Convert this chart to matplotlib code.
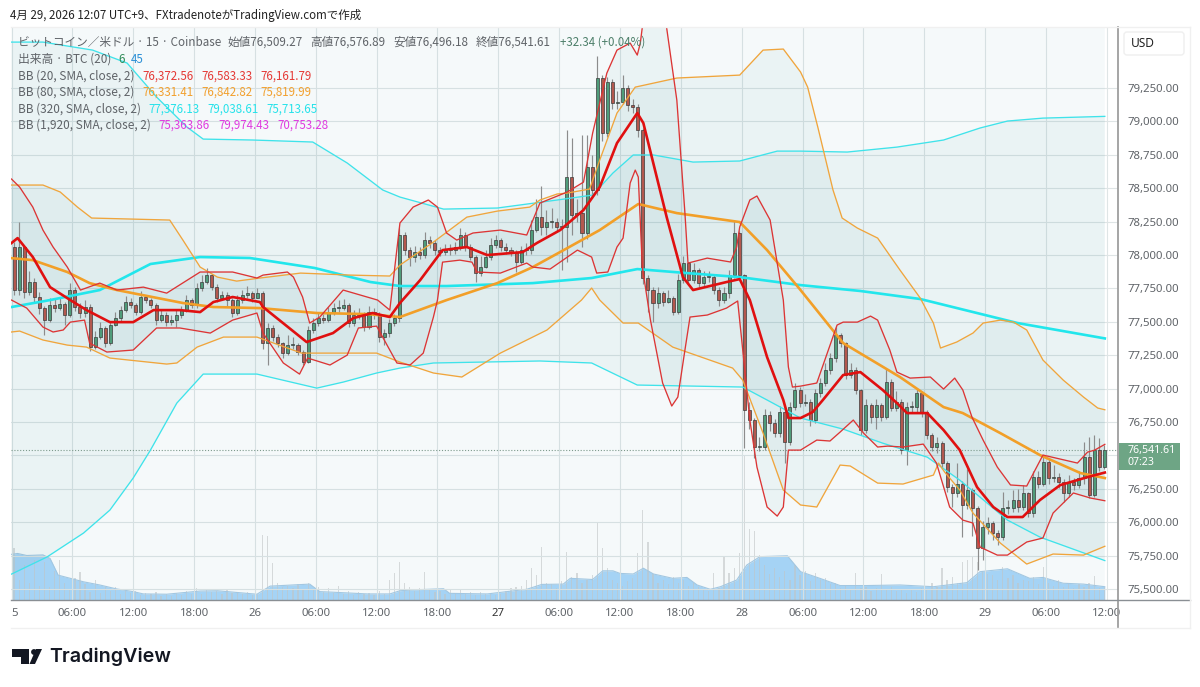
import numpy as np
import matplotlib
matplotlib.use("Agg")
import matplotlib.pyplot as plt
from matplotlib.patches import Polygon, Circle, Rectangle, FancyBboxPatch

plt.rcParams['font.family'] = ['Noto Sans CJK JP', 'DejaVu Sans']

# hours since Apr 25 00:00, prices in USD
first_open = 78062
closes = [
    77738, 78062, 77725, 77800, 77688, 77600, 77513, 77626, 77600, 77633, 77551, 77738, 77613, 77563, 77613, 77314,
    77389, 77451, 77339, 77476, 77526, 77588, 77651, 77626, 77576, 77688, 77663, 77626, 77513, 77551, 77501, 77513,
    77551, 77588, 77663, 77626, 77750, 77800, 77850, 77763, 77676, 77700, 77663, 77563, 77663, 77700, 77713, 77676,
    77713, 77339, 77451, 77389, 77339, 77264, 77326, 77326, 77276, 77201, 77438, 77488, 77526, 77513, 77563, 77600,
    77600, 77626, 77488, 77551, 77551, 77463, 77576, 77551, 77389, 77414, 77488, 77526, 78150, 78038, 77988, 78025,
    78000, 78113, 78088, 78038, 78025, 78038, 78038, 78063, 78150, 78063, 77988, 77863, 77913, 77988, 78075, 78113,
    78063, 78038, 78025, 77950, 78038, 78038, 78188, 78287, 78213, 78250, 78250, 78213, 78213, 78587, 78300, 78312,
    78163, 78662, 78487, 79323, 78911, 79298, 79136, 79148, 79248, 79123, 79111, 78936, 77826, 77738, 77639, 77713,
    77651, 77676, 77576, 77813, 77938, 77813, 77888, 77788, 77838, 77838, 77738, 77664, 77713, 77851, 78162, 77850,
    76840, 76765, 76565, 76565, 76802, 76740, 76665, 76827, 76603, 76865, 76990, 76890, 76902, 76765, 76965, 77039,
    77139, 77226, 77401, 77339, 77102, 77139, 76990, 76690, 76877, 76790, 76877, 76790, 77052, 76852, 76902, 76540,
    76864, 76864, 76964, 76827, 76652, 76565, 76590, 76440, 76266, 76216, 76290, 76128, 76241, 76103, 75804, 75966,
    75991, 75916, 75891, 76103, 76103, 76166, 76116, 76216, 76066, 76340, 76290, 76453, 76328, 76340, 76303, 76216,
    76303, 76278, 76328, 76490, 76203, 76540, 76415, 76540,
]
highs = [
    78100, 78250, 78062, 77880, 77830, 77720, 77620, 77680, 77680, 77680, 77650, 77790, 77760, 77640, 77660, 77630,
    77430, 77500, 77470, 77510, 77570, 77620, 77690, 77680, 77640, 77730, 77700, 77680, 77640, 77590, 77570, 77550,
    77590, 77620, 77700, 77680, 77790, 77850, 77900, 77860, 77780, 77730, 77720, 77680, 77700, 77740, 77770, 77730,
    77750, 77730, 77490, 77480, 77410, 77350, 77400, 77390, 77340, 77290, 77470, 77530, 77570, 77560, 77610, 77640,
    77660, 77670, 77640, 77590, 77600, 77570, 77620, 77600, 77570, 77450, 77520, 77560, 78200, 78170, 78060, 78070,
    78060, 78170, 78140, 78110, 78060, 78080, 78080, 78100, 78200, 78170, 78080, 78000, 77990, 78040, 78130, 78150,
    78130, 78090, 78060, 78040, 78070, 78090, 78260, 78420, 78520, 78340, 78350, 78280, 78270, 78936, 78874, 78420,
    78899, 78899, 78750, 79491, 79350, 79330, 79320, 79230, 79348, 79270, 79170, 79130, 78950, 77850, 77760, 77760,
    77730, 77740, 77690, 77860, 77990, 77950, 77940, 77900, 77880, 77880, 77860, 77760, 77760, 77890, 78262, 78180,
    77860, 76900, 76780, 76640, 76850, 76830, 76770, 76870, 76850, 76900, 77040, 77010, 76960, 76920, 77000, 77080,
    77190, 77270, 77460, 77420, 77350, 77190, 77160, 77000, 76920, 76890, 76920, 76890, 77150, 77070, 76980, 76920,
    76900, 76910, 77000, 76980, 76840, 76670, 76640, 76610, 76460, 76290, 76440, 76310, 76400, 76260, 76120, 76010,
    76040, 76010, 75940, 76230, 76170, 76240, 76250, 76280, 76230, 76380, 76380, 76500, 76470, 76430, 76370, 76320,
    76350, 76330, 76380, 76600, 76640, 76650, 76630, 76577,
]
lows = [
    77700, 77700, 77680, 77700, 77650, 77560, 77400, 77500, 77570, 77590, 77476, 77540, 77580, 77530, 77540, 77280,
    77300, 77370, 77310, 77330, 77470, 77510, 77570, 77600, 77550, 77560, 77640, 77600, 77480, 77500, 77470, 77480,
    77460, 77530, 77570, 77600, 77600, 77730, 77780, 77740, 77650, 77660, 77620, 77540, 77550, 77640, 77680, 77650,
    77680, 77300, 77177, 77360, 77310, 77230, 77250, 77300, 77250, 77180, 77190, 77420, 77470, 77490, 77500, 77550,
    77570, 77590, 77460, 77470, 77520, 77430, 77450, 77520, 77350, 77330, 77390, 77470, 77500, 78000, 77920, 77950,
    77970, 77980, 78050, 78000, 77990, 78000, 78000, 78010, 78040, 78030, 77960, 77800, 77840, 77900, 77960, 78050,
    78030, 78010, 77990, 77870, 77930, 78000, 78010, 78170, 78150, 78150, 78200, 78170, 77890, 77950, 78150, 78250,
    78060, 78120, 78430, 78450, 78850, 78880, 79090, 79090, 79130, 79080, 79060, 78880, 77780, 77570, 77500, 77600,
    77620, 77640, 77550, 77560, 77790, 77780, 77790, 77760, 77770, 77800, 77710, 77620, 77640, 77680, 77830, 77820,
    76553, 76700, 76480, 76530, 76540, 76680, 76640, 76640, 76440, 76580, 76840, 76860, 76870, 76720, 76740, 76940,
    77020, 77110, 77200, 77310, 77070, 77080, 76960, 76650, 76670, 76740, 76700, 76760, 76770, 76830, 76830, 76510,
    76430, 76820, 76820, 76790, 76620, 76530, 76520, 76400, 76230, 76116, 76190, 75891, 76100, 75900, 75642, 75717,
    75910, 75870, 75830, 75870, 76060, 76080, 76080, 76090, 76040, 76040, 76260, 76270, 76290, 76300, 76260, 76150,
    76190, 76240, 76260, 76290, 76180, 76190, 76380, 76400,
]
volumes = [
    180, 70, 120, 60, 140, 50, 130, 45, 100, 138, 60, 35, 75, 98, 55, 28, 70, 25, 45, 30,
    45, 22, 35, 25, 30, 18, 25, 20, 28, 15, 22, 15, 25, 18, 30, 20, 40, 22, 35, 28,
    30, 22, 35, 25, 28, 20, 26, 18, 22, 225, 221, 127, 60, 45, 50, 40, 55, 35, 60, 38,
    45, 28, 40, 25, 50, 22, 32, 18, 28, 20, 24, 18, 30, 22, 70, 95, 133, 60, 45, 30,
    40, 98, 35, 28, 30, 22, 35, 25, 38, 20, 28, 18, 26, 20, 25, 16, 22, 30, 40, 45,
    50, 70, 110, 85, 184, 60, 55, 40, 65, 167, 80, 95, 60, 70, 85, 271, 179, 110, 70, 60,
    50, 65, 75, 161, 311, 202, 90, 60, 70, 55, 80, 60, 70, 50, 60, 45, 35, 30, 92, 40,
    150, 95, 110, 161, 502, 244, 240, 156, 120, 90, 110, 80, 100, 70, 120, 85, 100, 65, 95, 70,
    75, 55, 60, 40, 50, 35, 92, 40, 45, 30, 42, 90, 35, 45, 30, 38, 25, 35, 28, 40,
    35, 60, 45, 110, 70, 80, 60, 133, 138, 150, 133, 100, 90, 85, 70, 115, 75, 85, 60, 70,
    65, 80, 55, 115, 60, 50, 70, 45, 55, 40, 55, 45, 60, 83, 42, 45,
]

vol_ma_h = [0, 0.6, 1.5, 3.1, 3.8, 4.6, 7.1, 8.7, 10.4, 12, 13, 15.3, 18.6, 20.3, 24.2, 25.5, 29.4, 30.4, 31.7, 35.1,
            37.3, 38.3, 39.6, 42.6, 43.2, 46.9, 50.8, 52.3, 54.4, 55.1, 57.3, 58.3, 59.3, 60, 61.3, 62.3, 63.3, 65.2,
            66.6, 67.6, 68.9, 69.9, 71.5, 72.5, 73.8, 76.5, 77.8, 79.7, 81.7, 84.3, 87.6, 90.9, 94.2, 95.5, 98.2,
            100.4, 101.7, 103.7, 105.7, 107.8]
vol_ma = [158, 161, 154, 156, 144, 86, 63, 52, 38, 29, 21, 20, 31, 32, 20, 48, 55, 29, 27, 21,
          21, 32, 35, 39, 23, 21, 37, 54, 55, 75, 71, 101, 101, 92, 90, 110, 90, 75,
          78, 52, 37, 46, 69, 121, 150, 153, 98, 75, 50, 50, 52, 46, 60, 98, 108,
          75, 78, 58, 55, 46]

bb20_basis_h = [0, 0.6, 2.1, 3.8, 5.8, 7.4, 9.7, 12, 14, 16.6, 18.6, 19.9, 21.8, 24.5, 24.8, 29.1, 31.7, 33.7, 35.6,
                37.3, 38.3, 40.3, 42.5, 44.9, 46.9, 50.4, 51.8, 54.1, 56.4, 58, 59.7, 61.7, 62.3, 64.6, 66.2, 67.2,
                70.5, 71.8, 72.8, 74.5, 76.1, 76.6, 77.8, 79, 80, 82, 83.7, 85.9, 87.3, 88.3, 90.3, 91.9, 93.5, 95.2,
                96.8, 98.2, 99.7, 101.4, 103.4, 106.1, 107.8]
bb20_basis = [78090, 78127, 77985, 77760, 77663, 77588, 77498, 77498, 77588, 77588, 77573, 77648, 77686, 77648, 77611,
              77349, 77416, 77528, 77566, 77536, 77641, 77813, 78037, 78060, 78000, 78022, 78090, 78187, 78337, 78509,
              78838, 79063, 78988, 78284, 77835, 77738, 77798, 77820, 77663, 77236, 76915, 76780, 76780, 76825, 76915,
              77102, 77124, 76990, 76892, 76817, 76817, 76690, 76540, 76263, 76114, 76039, 76039, 76166, 76278, 76338,
              76372]
bb20_upper_h = [0, 0.8, 2.1, 3.1, 4.1, 5.5, 6.8, 8.7, 10.4, 13, 15.3, 18.6, 21.8, 24.2, 24.8, 27.2, 27.8, 28.7, 29.4,
                30.4, 32.7, 36.1, 37.3, 38.3, 39.6, 41.1, 42, 42.9, 43.9, 45.5, 48.2, 50.8, 52.1, 54.8, 56.4, 57.3,
                58.7, 59.7, 61, 61.7, 62, 62.2, 63.1, 64.1, 64.6, 65.6, 66.4, 66.7, 68.6, 70.9, 71.5, 71.8, 72.8, 73.5,
                74.8, 76.1, 76.6, 77, 77.8, 79.4, 81.4, 82, 83.4, 84.7, 85.4, 86.6, 87.3, 88.6, 90.6, 91.9, 93, 93.8,
                94.7, 95.8, 97.2, 98.5, 100.1, 101.7, 105.1, 106.1, 106.8, 107.8]
bb20_upper = [78569, 78509, 78359, 78187, 78060, 77910, 77738, 77790, 77738, 77760, 77715, 77873, 77873, 77828, 77850,
              77873, 77835, 77686, 77491, 77536, 77738, 77663, 77588, 78240, 78359, 78412, 78359, 78165, 78112, 78165,
              78187, 78150, 78389, 78472, 78546, 78913, 79362, 79534, 79587, 79497, 79587, 79707, 80058, 80095, 79699,
              79160, 78314, 77940, 77977, 77948, 78060, 78210, 78412, 78442, 78262, 77663, 77162, 77012, 77019, 77042,
              77476, 77498, 77498, 77543, 77513, 77289, 77124, 77079, 77087, 76997, 77079, 76990, 76787, 76615, 76413,
              76279, 76271, 76503, 76443, 76525, 76540, 76583]
bb20_lower_h = [0, 1.5, 3.1, 4.1, 5.1, 5.8, 7.2, 7.7, 9.4, 12, 14.3, 16.6, 19.6, 21.8, 24.2, 24.8, 26.8, 28.4, 29.2,
                31.4, 33.1, 34.2, 36, 38, 39.3, 40.6, 41.6, 42, 42.5, 44.2, 45.4, 45.9, 48.2, 50.8, 51.4, 53.1, 55.8,
                57.2, 57.7, 58.8, 59.7, 60.3, 61, 61.5, 61.8, 62.2, 63, 64.2, 65.1, 65.7, 66.4, 66.9, 68.6, 70.5, 71.6,
                72.1, 72.8, 73.5, 74.5, 75.5, 76.1, 76.6, 77.8, 79.4, 80.7, 81.7, 83, 84, 85.4, 86.4, 87.9, 89.9, 91.2,
                92.5, 93.8, 94.8, 95.5, 97.2, 98.2, 100.1, 101.7, 102.7, 104.7, 106.4, 107.8]
bb20_lower = [77663, 77603, 77461, 77424, 77439, 77498, 77513, 77341, 77274, 77289, 77454, 77454, 77416, 77513, 77566,
              77416, 77192, 77109, 77229, 77177, 77251, 77454, 77468, 77192, 77177, 77266, 77536, 77663, 77947, 77962,
              77947, 77873, 77865, 77940, 77910, 77895, 78037, 77985, 77865, 77873, 78060, 78127, 78539, 78636, 78584,
              77910, 77513, 77042, 76870, 76937, 77289, 77536, 77551, 77603, 77656, 77289, 76765, 76413, 76114, 76046,
              76114, 76540, 76540, 76615, 76608, 76675, 76765, 76668, 76563, 76570, 76563, 76585, 76443, 76114, 76016,
              75994, 75814, 75754, 75754, 75852, 75882, 76069, 76219, 76181, 76161]

bb80_basis_h = [0, 2.1, 5.5, 7.7, 10.4, 16.9, 19.9, 24.5, 30.1, 35.1, 38.3, 42.9, 47.9, 51.4, 54.8, 58, 61.8, 65.6,
                71.8, 74.5, 77.8, 82, 87.6, 91.9, 93.8, 97.5, 101.4, 105.4, 107.8]
bb80_basis = [77977, 77962, 77873, 77790, 77738, 77641, 77611, 77603, 77566, 77558, 77536, 77663, 77790, 77910, 78052,
              78187, 78382, 78314, 78247, 78037, 77738, 77341, 77087, 76862, 76817, 76667, 76503, 76368, 76331]
bb80_upper_h = [0, 3.1, 4.8, 6.5, 7.9, 12, 15.6, 16.9, 18.6, 20.3, 22.2, 24.5, 28.5, 33.4, 37.3, 38.3, 41.6, 44.9, 47.9,
                51.1, 52.1, 53.8, 54.8, 57, 58, 59.7, 61.5, 65.6, 71.8, 74.1, 76.1, 77.8, 78.5, 79.5, 81, 81.9, 83.4,
                85.4, 87.6, 89.6, 90.9, 91.6, 93.2, 94.8, 95.8, 97.5, 98.8, 100.1, 101.7, 103.7, 105.7, 107.1, 107.8]
bb80_upper = [78524, 78524, 78472, 78359, 78277, 78269, 78262, 78112, 77910, 77835, 77805, 77828, 77865, 77850, 77843,
              77925, 78097, 78284, 78329, 78359, 78412, 78457, 78464, 78494, 78711, 79063, 79257, 79325, 79347, 79534,
              79542, 79370, 79257, 78958, 78487, 78277, 78202, 78127, 77888, 77678, 77491, 77304, 77349, 77416, 77491,
              77513, 77498, 77439, 77214, 77064, 76937, 76855, 76842]
bb80_lower_h = [0, 0.8, 3.1, 5.5, 7.4, 9.7, 15.3, 16.3, 18.3, 20.9, 24.2, 28.6, 36, 38.3, 41.6, 44.4, 48.2, 52.8, 56.2,
                57.2, 58, 60.3, 61.8, 65.2, 71.1, 72.1, 74.1, 76.1, 77.8, 79.4, 81.7, 82.7, 85.4, 87.9, 90.9, 91.4, 92,
                93.5, 94.8, 97.5, 100.1, 102.7, 105.7, 107.8]
bb80_lower = [77424, 77431, 77364, 77326, 77311, 77229, 77184, 77192, 77311, 77386, 77386, 77266, 77266, 77199, 77117,
              77087, 77266, 77439, 77663, 77753, 77663, 77491, 77491, 77311, 77154, 77064, 76668, 76241, 76129, 76114,
              76428, 76421, 76293, 76286, 76353, 76443, 76376, 76241, 76069, 75844, 75687, 75762, 75754, 75820]

bb320_basis_h = [0, 3.8, 8.7, 13.7, 18.6, 23.5, 29.9, 35.4, 38.3, 42.9, 51.4, 57.2, 61.7, 66.6, 71.8, 77.8, 83.7, 89.6,
                 99.2, 107.8]
bb320_basis = [77611, 77663, 77738, 77933, 77985, 77978, 77903, 77798, 77768, 77768, 77790, 77828, 77895, 77865, 77835,
               77775, 77731, 77671, 77491, 77376]
bb320_upper_h = [0, 3.1, 8, 11.4, 14.3, 17.3, 18.9, 23.8, 29.7, 33.1, 36.6, 38.3, 42.6, 47.9, 53.8, 57.3, 59.3, 61.3,
                 63.3, 67.2, 71.8, 75.5, 77.8, 82.4, 87.3, 91.9, 95.5, 98.2, 101.7, 107.8]
bb320_upper = [79594, 79594, 79534, 79437, 79183, 78958, 78868, 78861, 78846, 78689, 78487, 78434, 78344, 78352, 78412,
               78449, 78614, 78749, 78749, 78696, 78704, 78778, 78778, 78771, 78808, 78861, 78951, 79003, 79025, 79038]
bb320_lower_h = [0, 3.5, 7.1, 9.7, 12, 13.7, 16.3, 18.9, 24.2, 30.1, 32.7, 36, 38.3, 41.6, 52.1, 57.2, 61.7, 72.1, 74.5,
                 77.8, 82, 85.9, 90.3, 93.5, 98.2, 101.4, 107.8]
bb320_lower = [75612, 75740, 75919, 76091, 76331, 76540, 76892, 77109, 77109, 77004, 77049, 77117, 77154, 77192, 77207,
               77192, 77027, 77012, 76915, 76780, 76697, 76592, 76487, 76315, 76016, 75889, 75713]

bb1920_h = [0, 107.8]
bb1920_upper = [79990, 79974]
bb1920_lower = [70700, 70753]

time_ticks = [0, 6, 12, 18, 24, 30, 36, 42, 48, 54, 60, 66, 72, 78, 84, 90, 96, 102, 108]
time_labels = ["5", "06:00", "12:00", "18:00", "26", "06:00", "12:00", "18:00", "27", "06:00", "12:00", "18:00",
               "28", "06:00", "12:00", "18:00", "29", "06:00", "12:00"]
price_ticks = [75500, 75750, 76000, 76250, 76500, 76750, 77000, 77250, 77500, 77750, 78000, 78250, 78500, 78750, 79000,
               79250]
last_price = 76541.61

RED = '#dc3535'
ORANGE = '#f0a53c'
CYAN = '#3fe3ea'
GREY_TXT = '#5f6368'

fig = plt.figure(figsize=(12, 6.87), dpi=100, facecolor='white')
rect = [11 / 1200, 87 / 687, 1107 / 1200, 573 / 687]
ax_vol = fig.add_axes(rect, zorder=1)
ax = fig.add_axes(rect, zorder=2)
ax.patch.set_visible(False)

# volume pane
bar_h = np.arange(len(volumes)) * 0.5 + 0.25
ax_vol.fill_between(vol_ma_h, vol_ma, 0, color='#90caf9', alpha=0.75, lw=0)
ax_vol.plot(vol_ma_h, vol_ma, color='#a9cbe6', lw=0.8)
ax_vol.bar(bar_h, volumes, width=0.12, color='#c8c8c8', alpha=0.6, lw=0)
ax_vol.set_xlim(-0.05, 109.1)
ax_vol.set_ylim(0, 1983)
ax_vol.axis('off')

# band fills
band_color = '#0a7480'
ax.fill_between(bb1920_h, bb1920_lower, bb1920_upper, color=band_color, alpha=0.04, lw=0, zorder=1)
for hu, up, hl, lo in [(bb320_upper_h, bb320_upper, bb320_lower_h, bb320_lower),
                       (bb80_upper_h, bb80_upper, bb80_lower_h, bb80_lower),
                       (bb20_upper_h, bb20_upper, bb20_lower_h, bb20_lower)]:
    ax.fill(np.r_[hu, hl[::-1]], np.r_[up, lo[::-1]], color=band_color, alpha=0.042, lw=0, zorder=1)

ax.set_xlim(-0.05, 109.1)
ax.set_ylim(75418, 79707)
ax.set_axisbelow(True)
ax.grid(True, color='#dfe5e6', lw=0.8)

# candles
candle_h = np.arange(len(closes)) * 0.5 + 0.25
opens = np.r_[first_open, closes[:-1]]
closes_arr = np.array(closes)
ax.vlines(candle_h, lows, highs, color='#8c8c8c', lw=0.85, zorder=3)
up_mask = closes_arr >= opens
body_low = np.minimum(opens, closes_arr)
body_size = np.maximum(np.abs(closes_arr - opens), 8)
ax.bar(candle_h, body_size, bottom=body_low, width=0.3,
       color=np.where(up_mask, '#4f9c7a', '#b3584e'), edgecolor='#3b3b3b', lw=0.5, zorder=4)

# bollinger lines
ax.plot(bb320_upper_h, bb320_upper, color=CYAN, lw=0.95, zorder=5)
ax.plot(bb320_lower_h, bb320_lower, color=CYAN, lw=0.95, zorder=5)
ax.plot(bb320_basis_h, bb320_basis, color='#22e6ec', lw=1.9, zorder=5)
ax.plot(bb80_upper_h, bb80_upper, color=ORANGE, lw=0.95, zorder=6)
ax.plot(bb80_lower_h, bb80_lower, color=ORANGE, lw=0.95, zorder=6)
ax.plot(bb80_basis_h, bb80_basis, color='#f29f28', lw=1.9, zorder=6)
ax.plot(bb20_upper_h, bb20_upper, color=RED, lw=0.95, zorder=7)
ax.plot(bb20_lower_h, bb20_lower, color=RED, lw=0.95, zorder=7)
ax.plot(bb20_basis_h, bb20_basis, color='#e01010', lw=1.9, zorder=7)

ax.axhline(last_price, color='#7d9a8c', lw=0.8, ls=(0, (1, 1.6)), zorder=2)

# axes labels
ax.set_xticks(time_ticks)
ax.set_xticklabels(time_labels, fontsize=8.2, color=GREY_TXT, family=['Noto Sans', 'DejaVu Sans'])
ax.get_xticklabels()[0].set_ha('left')
ax.get_xticklabels()[8].set_fontweight('bold')
ax.get_xticklabels()[8].set_color('#333333')
ax.yaxis.tick_right()
ax.set_yticks(price_ticks)
# the 76,500 label sits under the last price tag
ax.set_yticklabels(["" if v == 76500 else f"{v:,.2f}" for v in price_ticks], fontsize=8.2, color=GREY_TXT,
                   family=['Noto Sans', 'DejaVu Sans'])
ax.tick_params(axis='both', length=0)
ax.tick_params(axis='x', pad=6)
ax.tick_params(axis='y', pad=7)
for s in ax.spines.values():
    s.set_visible(False)

# overlay in figure pixels for header, legend, price tag and logo
ov = fig.add_axes([0, 0, 1, 1], zorder=5)
ov.set_xlim(0, 1200)
ov.set_ylim(687, 0)
ov.axis('off')

ov.plot([1118, 1118], [27, 628], color='#9e9e9e', lw=1.3)
ov.plot([11, 1190], [600, 600], color='#8a8f94', lw=1)
ov.plot([11, 1190], [627.5, 627.5], color='#f0f0f0', lw=1)
ov.plot([1190, 1190], [27, 628], color='#f0f0f0', lw=1)
ov.plot([11, 1190], [27, 27], color='#f0f0f0', lw=1)
ov.add_patch(FancyBboxPatch((1124, 32), 60, 23, boxstyle='round,pad=0,rounding_size=3', fc='white',
                            ec='#efefef', lw=1))
ov.text(1131, 43.5, "USD", fontsize=8.6, color='#222222', va='center', family=['Noto Sans', 'DejaVu Sans'])

ov.add_patch(Rectangle((1119, 443), 61, 27, fc='#6ea585', ec='none'))
ov.text(1128, 450, "76,541.61", fontsize=7.6, color='white', va='center', fontweight='bold',
        family=['Noto Sans', 'DejaVu Sans'])
ov.text(1128, 462.5, "07:23", fontsize=7.6, color='white', va='center', family=['Noto Sans', 'DejaVu Sans'])

ov.text(10, 15.5, "4月 29, 2026 12:07 UTC+9、FXtradenoteがTradingView.comで作成", fontsize=8.3, color='#222222',
        va='center')

head = [(18, "ビットコイン／米ドル · 15 · Coinbase"), (227, "始値76,509.27"), (310, "高値76,576.89"),
        (393, "安値76,496.18"), (476, "終値76,541.61")]
for x, s in head:
    ov.text(x, 42.5, s, fontsize=8.4, color=GREY_TXT, va='center')
ov.text(560, 42.5, "+32.34 (+0.04%)", fontsize=8.3, color='#4d7f6a', va='center')

ov.text(18, 59.5, "出来高 · BTC (20)", fontsize=8.5, color=GREY_TXT, va='center')
ov.text(118, 59.5, "6", fontsize=8.3, color='#2e8b57', va='center')
ov.text(131, 59.5, "45", fontsize=8.3, color='#2a8fd6', va='center')

rows = [(76, "BB (20, SMA, close, 2)", [(142, "76,372.56"), (201, "76,583.33"), (260, "76,161.79")], '#e53935'),
        (92.5, "BB (80, SMA, close, 2)", [(142, "76,331.41"), (201, "76,842.82"), (260, "75,819.99")], '#f2a02e'),
        (109, "BB (320, SMA, close, 2)", [(148, "77,376.13"), (207, "79,038.61"), (266, "75,713.65")], '#25e2ea'),
        (125.5, "BB (1,920, SMA, close, 2)", [(158, "75,363.86"), (218, "79,974.43"), (277, "70,753.28")], '#e03ae0')]
for y, name, vals, col in rows:
    ov.text(18, y, name, fontsize=8.5, color=GREY_TXT, va='center')
    for x, s in vals:
        ov.text(x, y, s, fontsize=8.3, color=col, va='center')

# logo
ov.add_patch(Polygon([(12, 649), (29, 649), (29, 664), (20.5, 664), (20.5, 657), (12, 657)], fc='#131722', ec='none'))
ov.add_patch(Circle((34, 652), 2.9, fc='#131722', ec='none'))
ov.add_patch(Polygon([(36, 649), (42, 649), (35, 664), (29.5, 664)], fc='#131722', ec='none'))
ov.text(49, 657, "TradingView", fontsize=14.2, color='#131722', va='center', fontweight='semibold', family='Inter')

fig.savefig('out.png', dpi=100)
